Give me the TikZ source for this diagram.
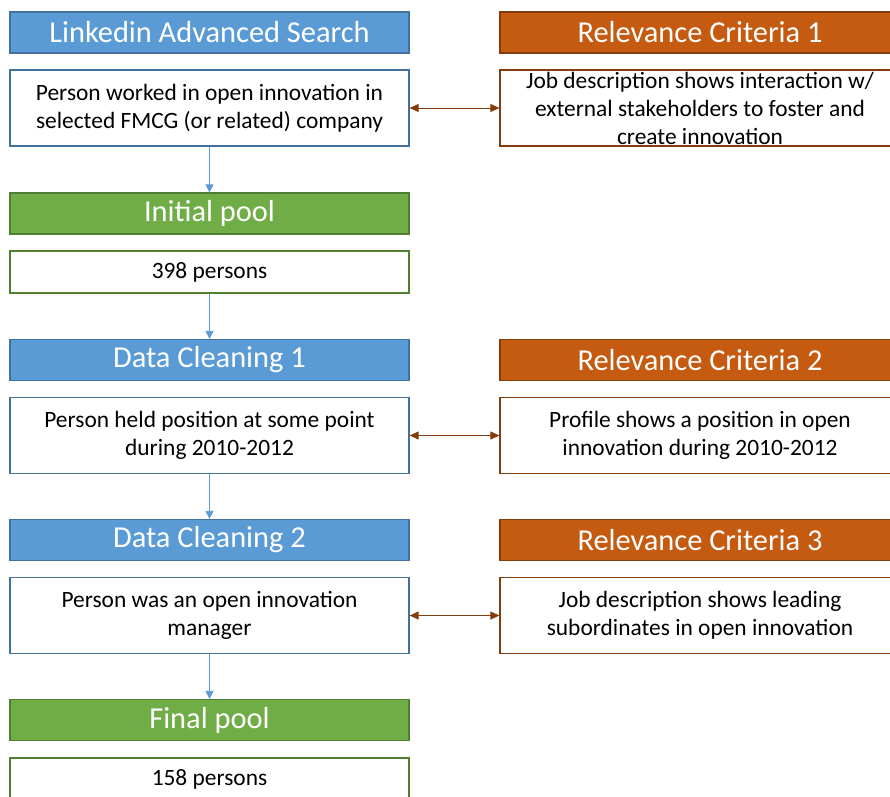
\documentclass[tikz,border=0pt]{standalone}
\usepackage{fontspec}
\setmainfont{Carlito}
\usetikzlibrary{arrows.meta}
\definecolor{hblue}{HTML}{5B9BD5}
\definecolor{bblue}{HTML}{41719C}
\definecolor{hgreen}{HTML}{70AD47}
\definecolor{bgreen}{HTML}{507E32}
\definecolor{horange}{HTML}{C55A11}
\definecolor{borange}{HTML}{843C0C}
\tikzset{
  hdr/.style={draw, line width=1.2pt, minimum height=41pt, inner sep=0pt, text=white,
    font=\fontsize{30.4}{34}\selectfont},
  leftcol/.style={minimum width=399pt},
  rightcol/.style={minimum width=400pt},
  bluehdr/.style={hdr, leftcol, fill=hblue, draw=bblue},
  greenhdr/.style={hdr, leftcol, fill=hgreen, draw=bgreen},
  orangehdr/.style={hdr, rightcol, fill=horange, draw=borange},
  txtbox/.style={draw, line width=1.2pt, fill=white, inner sep=0pt, align=center,
    font=\fontsize{23.4}{28}\selectfont, text=black},
  tallbox/.style={txtbox, minimum height=76pt},
  shortbox/.style={txtbox, minimum height=42pt},
  flow/.style={draw=hblue, line width=0.8pt, -{Triangle[width=8pt,length=8pt]}},
  link/.style={draw=borange, line width=0.8pt, {Triangle[width=8pt,length=9pt]}-{Triangle[width=8pt,length=9pt]}}
}
\begin{document}
\begin{tikzpicture}[x=1pt,y=1pt]
\useasboundingbox (0,0) rectangle (890,-796);
% left column
\node[bluehdr] (h1) at (209.5,-32.5) {Linkedin Advanced Search};
\node[tallbox, leftcol, draw=bblue] (b1) at (209.5,-108) {Person worked in open innovation in\\selected FMCG (or related) company};
\node[greenhdr] (h2) at (209.5,-213.5) {Initial pool};
\node[shortbox, leftcol, draw=bgreen] (b2) at (209.5,-272) {398 persons};
\node[bluehdr] (h3) at (209.5,-360) {Data Cleaning 1};
\node[tallbox, leftcol, draw=bblue] (b3) at (209.5,-435.5) {Person held position at some point\\during 2010-2012};
\node[bluehdr] (h4) at (209.5,-540) {Data Cleaning 2};
\node[tallbox, leftcol, draw=bblue] (b4) at (209.5,-615.5) {Person was an open innovation\\manager};
\node[greenhdr] (h5) at (209.5,-720) {Final pool};
\node[shortbox, leftcol, draw=bgreen] (b5) at (209.5,-779) {158 persons};
% right column
\node[orangehdr] (r1) at (700,-32.5) {Relevance Criteria 1};
\node[tallbox, rightcol, draw=borange] (c1) at (700,-108) {Job description shows interaction w/\\external stakeholders to foster and\\create innovation};
\node[orangehdr] (r2) at (700,-360) {Relevance Criteria 2};
\node[tallbox, rightcol, draw=borange] (c2) at (700,-435.5) {Profile shows a position in open\\innovation during 2010-2012};
\node[orangehdr] (r3) at (700,-540) {Relevance Criteria 3};
\node[tallbox, rightcol, draw=borange] (c3) at (700,-615.5) {Job description shows leading\\subordinates in open innovation};
% flow arrows
\draw[flow] (b1) -- (h2);
\draw[flow] (b2) -- (h3);
\draw[flow] (b3) -- (h4);
\draw[flow] (b4) -- (h5);
% links
\draw[link] (b1) -- (c1);
\draw[link] (b3) -- (c2);
\draw[link] (b4) -- (c3);
\end{tikzpicture}
\end{document}
